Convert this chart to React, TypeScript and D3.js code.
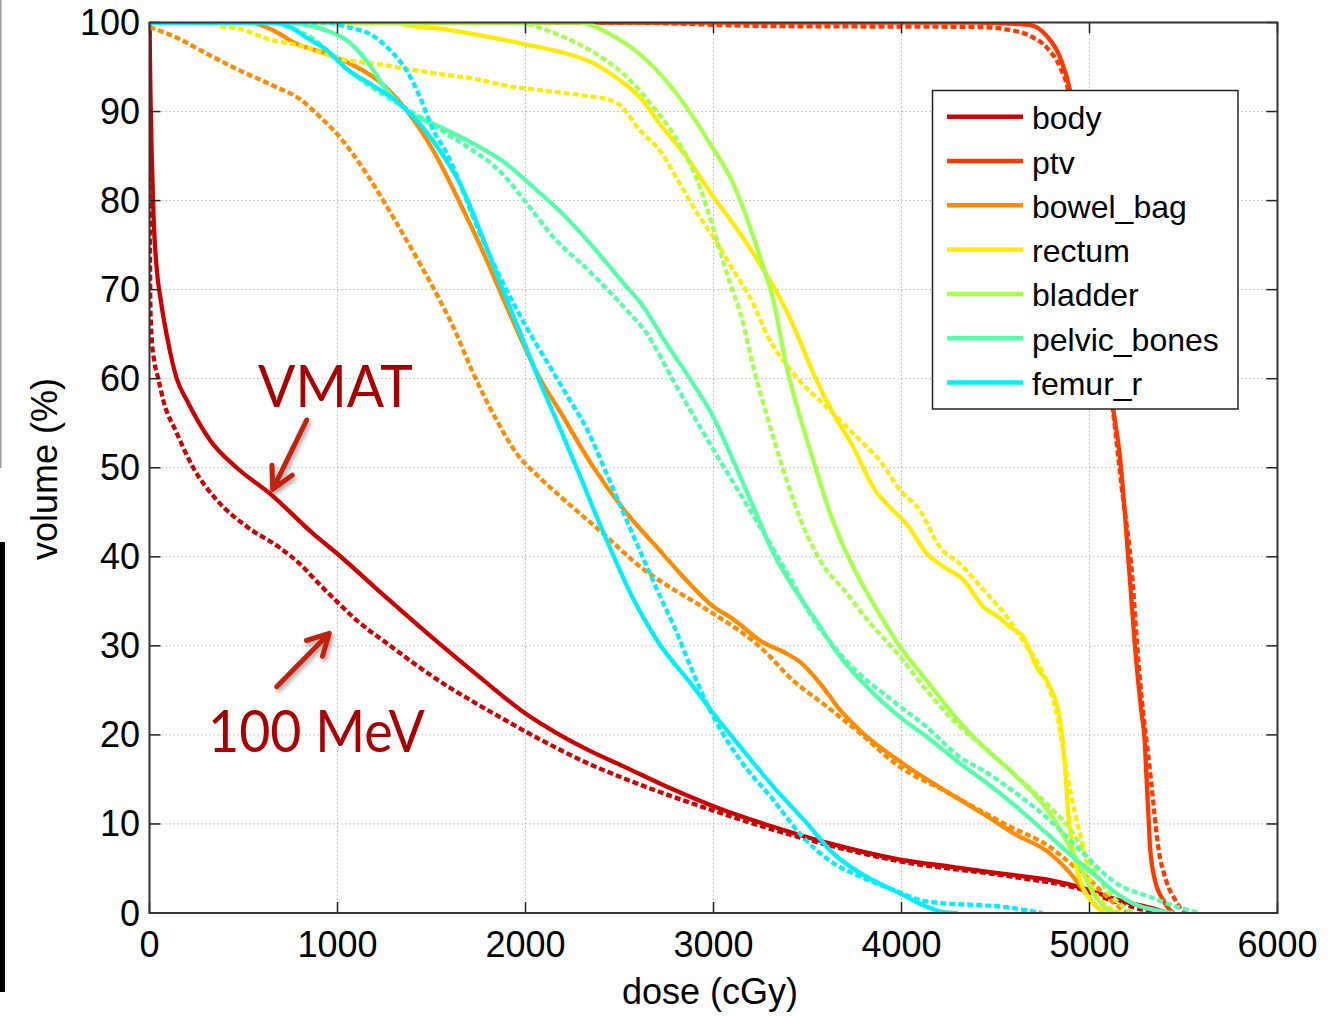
import React from "react";
import * as d3 from "d3";

type P = [number, number];

// ---------- data ----------
const structureNames = ["body", "ptv", "bowel_bag", "rectum", "bladder", "pelvic_bones", "femur_r"];
const structureColors = ["#CC0000", "#FF3A00", "#FF8C00", "#FFEB00", "#A6FF4D", "#55FFAA", "#00EEFF"];
const xTicks = [0, 1000, 2000, 3000, 4000, 5000, 6000];
const yTicks = [0, 10, 20, 30, 40, 50, 60, 70, 80, 90, 100];

// VMAT (solid)
const bodyVMAT: P[] = [[0,100],[5,92],[12,85],[22,78],[40,72],[60,68.8],[100,64],[145,60],[198,57.6],[322,53.1],[464,50],[641,47.1],[870,42.6],[996,40.4],[1250,35.6],[1500,31],[1750,26.6],[2000,22.4],[2166,20.2],[2343,18.2],[2538,16.3],[2750,14.2],[2999,12],[3300,9.8],[3602,7.9],[3992,6],[4258,5.2],[4577,4.3],[4790,3.7],[4965,2.8],[5145,1.5],[5322,0.6],[5420,0]];
const ptvVMAT: P[] = [[0,100],[4400,100],[4683,99.7],[4772,98.5],[4843,96.1],[4896,92.4],[4950,84],[5030,70],[5127,56.5],[5162,51.2],[5215,37.4],[5242,29.9],[5277,22.4],[5292,19.8],[5304,14.9],[5313,11.2],[5322,7.4],[5348,3.7],[5391,1.5],[5430,0.3],[5450,0]];
const bowelVMAT: P[] = [[0,100],[535,100],[659,99.1],[783,97.6],[943,96.5],[1120,94.8],[1226,93.3],[1368,90.1],[1510,85.6],[1652,79.7],[1794,73.3],[1873,69.4],[1935,66.4],[2077,60],[2184,56.3],[2360,50.1],[2538,44.9],[2715,40.7],[2850,37.5],[3000,34.4],[3105,33],[3247,30.6],[3400,29],[3460,28.2],[3566,25.8],[3673,22.8],[3779,20.5],[3992,17],[4258,13.4],[4430,11.2],[4600,8.9],[4790,6.7],[4896,4.5],[4967,2.6],[5038,0.7],[5100,0]];
const rectumVMAT: P[] = [[0,100],[1300,100],[1368,99.7],[1545,99.3],[1722,98.7],[1900,98],[2077,97.2],[2184,96.7],[2343,95.6],[2503,93.5],[2609,91.6],[2715,88.6],[2857,84.9],[3000,80.4],[3105,77.4],[3247,72.9],[3354,69],[3424,66],[3531,60.6],[3637,56.1],[3744,52.3],[3850,47.8],[3956,45.2],[4027,43.7],[4134,40.4],[4222,38.9],[4329,37.4],[4435,34.4],[4524,33.1],[4577,32.1],[4648,31],[4719,27.6],[4790,25.4],[4843,21.7],[4870,16.4],[4887,11.2],[4914,6.7],[4949,3.7],[5003,1.5],[5074,0.2],[5120,0]];
const bladderVMAT: P[] = [[0,100],[2290,100],[2449,98.7],[2627,96.1],[2804,92],[2981,86.4],[3105,81.9],[3176,78.1],[3247,73.7],[3318,68.8],[3389,61.3],[3460,55.7],[3531,50.8],[3620,44.9],[3726,39.6],[3779,37.4],[3885,33.5],[3992,29.9],[4134,26.1],[4311,21.4],[4435,18.7],[4613,15.3],[4790,11.2],[4896,7.4],[4967,4.5],[5020,2.2],[5091,0.5],[5150,0]];
const pelvicVMAT: P[] = [[0,100],[750,100],[836,99.7],[943,99.1],[1049,98],[1155,95.7],[1262,92.4],[1368,90.1],[1545,88.3],[1722,86.4],[1900,84.1],[2042,81.5],[2184,78.8],[2343,75.2],[2538,70.3],[2609,68.6],[2751,63.9],[2893,59.4],[2999,55.7],[3105,50.8],[3212,45.6],[3319,40.4],[3424,36.6],[3531,33.3],[3673,28.8],[3815,25.4],[3992,22],[4134,19.8],[4311,16.8],[4435,14.9],[4613,11.9],[4790,8.6],[4934,5.9],[5038,4.1],[5145,2.2],[5251,0.9],[5357,0.3],[5450,0]];
const femurVMAT: P[] = [[0,100],[660,100],[747,99.5],[836,98.3],[943,96.9],[1049,94.8],[1190,92.9],[1332,90.9],[1439,88.6],[1545,85.6],[1652,81.9],[1758,76.6],[1864,70.8],[1971,65.2],[2077,59.6],[2184,54.4],[2280,49.6],[2365,45.2],[2460,40.5],[2570,35.4],[2694,30.8],[2893,25.4],[3000,22.4],[3141,18.7],[3318,14.2],[3496,10.1],[3637,6.7],[3779,4.5],[3992,2.2],[4134,0.7],[4222,0.1],[4300,0]];

// 100 MeV (dotted)
const bodyMeV: P[] = [[0,100],[1,88],[2.5,76],[5,68],[12,64.5],[25,62],[47,60],[73,57.6],[145,53.9],[233,50],[357,46.4],[517,43.4],[694,41],[800,39.2],[900,37],[1000,34.9],[1100,32.9],[1262,30.3],[1510,26.5],[1864,22],[2077,19.5],[2343,16.7],[2538,15],[2999,11.5],[3423,8.7],[3992,5.8],[4577,4.1],[4965,2.6],[5145,1.2],[5300,0.3],[5380,0]];
const ptvMeV: P[] = [[0,100],[2500,100],[3300,99.6],[4400,99.5],[4594,99.1],[4683,98.5],[4772,97.2],[4843,95],[4887,92.4],[4950,84],[5030,70],[5127,56],[5170,48],[5229,37.4],[5254,29.9],[5286,22.4],[5307,18.7],[5327,14.9],[5345,11.2],[5366,7.4],[5407,3.7],[5455,1.5],[5499,0.2],[5520,0]];
const bowelMeV: P[] = [[0,99.5],[145,98.3],[304,96.5],[481,94.6],[659,92.9],[800,91.4],[907,89.4],[1013,87.1],[1155,83],[1297,78.1],[1439,72.9],[1545,68.8],[1616,65.8],[1722,60.6],[1840,55.6],[1953,51.6],[2070,49],[2184,46.8],[2414,42.6],[2627,38.6],[2715,37.3],[2893,35],[3000,33.6],[3247,29.9],[3424,26.1],[3602,23.2],[3779,20.2],[3992,16.4],[4222,13.8],[4577,9.7],[4790,7.4],[4879,5.9],[5003,3.7],[5109,1.5],[5200,0]];
const rectumMeV: P[] = [[0,100],[350,100],[375,99.6],[481,99.3],[623,98.2],[836,97.2],[1013,95.9],[1190,95.4],[1368,94.8],[1545,94.2],[1722,93.7],[1900,92.9],[2077,92.4],[2343,91.7],[2449,91.3],[2503,90.7],[2609,87.9],[2715,85.6],[2821,81.9],[2928,78.1],[2999,75.9],[3105,72.2],[3212,68.4],[3283,65],[3424,60.6],[3602,56.8],[3779,53.1],[3885,50.8],[3992,47.5],[4098,45.2],[4204,41.1],[4311,39.2],[4453,35.9],[4560,33.3],[4667,29.9],[4754,26.9],[4825,22.4],[4887,14.9],[4923,11.2],[4967,7.4],[5003,3.7],[5056,1.5],[5145,0.2],[5180,0]];
const bladderMeV: P[] = [[0,100],[1950,100],[2166,98.7],[2343,96.9],[2538,93.9],[2680,90.5],[2786,87.5],[2857,84.9],[2928,81.5],[2981,78.1],[3034,74.4],[3088,70.7],[3141,67.5],[3212,61.3],[3301,54.6],[3389,48.6],[3478,43.4],[3567,39.6],[3709,35.9],[3815,33],[3992,28.8],[4134,25],[4311,20.9],[4435,18.7],[4613,15.3],[4790,11.9],[4914,8.9],[5003,5.6],[5091,2.6],[5180,0.7],[5230,0]];
const pelvicMeV: P[] = [[0,100],[620,100],[765,99.3],[907,97.6],[1013,95.4],[1155,93.1],[1297,91.2],[1439,89.4],[1581,87.5],[1722,85.6],[1864,83.3],[2006,79.7],[2148,75.9],[2343,72],[2538,67.7],[2645,65.1],[2786,59.8],[2928,54.6],[3034,50.8],[3141,47.1],[3247,43.4],[3354,39.6],[3424,37],[3496,34.2],[3673,29.1],[3992,23.2],[4134,20.9],[4311,17.5],[4435,16],[4613,13.4],[4790,10.4],[4967,6.7],[5145,3.3],[5322,1.8],[5463,0.7],[5590,0]];
const femurMeV: P[] = [[0,100],[943,100],[1049,99.5],[1190,98.5],[1297,96.5],[1368,94.6],[1439,91.6],[1510,87.9],[1581,85.3],[1652,81.9],[1722,78.1],[1829,73],[1935,68.5],[2040,64.5],[2140,61],[2230,57.8],[2325,54.4],[2432,49.3],[2538,44.1],[2627,39.8],[2715,35.6],[2786,32.4],[2893,26.9],[3000,22],[3141,17.2],[3318,12.7],[3460,8.9],[3637,5.6],[3779,4.1],[3956,2.6],[4134,1.3],[4577,0.6],[4750,0]];

const vmatSeries = [bodyVMAT, ptvVMAT, bowelVMAT, rectumVMAT, bladderVMAT, pelvicVMAT, femurVMAT];
const mevSeries = [bodyMeV, ptvMeV, bowelMeV, rectumMeV, bladderMeV, pelvicMeV, femurMeV];

const xTitle = "dose (cGy)";
const yTitle = "volume (%)";

// ---------- chart ----------
export default function App() {
  const W = 1334, H = 1016;
  const x = d3.scaleLinear().domain([0, 6000]).range([149.5, 1277.5]);
  const y = d3.scaleLinear().domain([0, 100]).range([913, 22.5]);
  const line = d3.line<P>().x(d => x(d[0])).y(d => y(d[1])).curve(d3.curveMonotoneX);
  const [x0, x1] = x.range();
  const [y0, y1] = y.range();
  const tickLen = 11;
  const font = "'Liberation Sans', Arial, Helvetica, sans-serif";
  const annFont = "Lato, 'Open Sans', sans-serif";
  const annColor = "#A80000";
  const arrowColor = "#C0200C";

  const arrow = (tail: P, tip: P) => {
    const dx = tail[0] - tip[0], dy = tail[1] - tip[1];
    const len = Math.hypot(dx, dy);
    const ux = dx / len, uy = dy / len;
    const a = (28 * Math.PI) / 180, L = 24;
    const r = (s: number) => [
      tip[0] + L * (ux * Math.cos(s * a) - uy * Math.sin(s * a)),
      tip[1] + L * (ux * Math.sin(s * a) + uy * Math.cos(s * a)),
    ];
    const p1 = r(1), p2 = r(-1);
    return `M${tail[0]},${tail[1]}L${tip[0]},${tip[1]}M${p1[0]},${p1[1]}L${tip[0]},${tip[1]}L${p2[0]},${p2[1]}`;
  };

  const legendX = 932.5, legendY = 90.5, legendW = 305.5, legendH = 318.5;

  return (
    <svg width={W} height={H} style={{ position: "absolute", left: 0, top: 0, background: "#fff" }}>
      <defs>
        <clipPath id="plot">
          <rect x={x0} y={y1} width={x1 - x0} height={y0 - y1} />
        </clipPath>
        <filter id="shadow" x="-50%" y="-50%" width="200%" height="200%">
          <feDropShadow dx="2" dy="3" stdDeviation="2" floodColor="#000" floodOpacity="0.35" />
        </filter>
      </defs>
      <rect x={0} y={0} width={W} height={H} fill="#fff" />
      {/* slide edge artifacts */}
      <rect x={0} y={0} width={1.5} height={468} fill="#999" />
      <rect x={0} y={542} width={5} height={450} fill="#000" />

      {/* grid */}
      <g stroke="#b5b5b5" strokeWidth={1} strokeDasharray="1.5 2.5">
        {xTicks.slice(1, -1).map(t => <line key={"gx" + t} x1={x(t)} x2={x(t)} y1={y1} y2={y0} />)}
        {yTicks.slice(1, -1).map(t => <line key={"gy" + t} x1={x0} x2={x1} y1={y(t)} y2={y(t)} />)}
      </g>

      {/* curves */}
      <g clipPath="url(#plot)" fill="none" strokeWidth={4.3} strokeLinejoin="round">
        {structureNames.map((n, i) => (
          <g key={n}>
            <path d={line(vmatSeries[i]) || ""} stroke={structureColors[i]} />
            <path d={line(mevSeries[i]) || ""} stroke={structureColors[i]} strokeDasharray="6 3" />
          </g>
        ))}
      </g>

      {/* axes box & ticks */}
      <g stroke="#222" strokeWidth={1.5}>
        {xTicks.map(t => (
          <g key={"tx" + t}>
            <line x1={x(t)} x2={x(t)} y1={y0} y2={y0 - tickLen} />
            <line x1={x(t)} x2={x(t)} y1={y1} y2={y1 + tickLen} />
          </g>
        ))}
        {yTicks.map(t => (
          <g key={"ty" + t}>
            <line x1={x0} x2={x0 + tickLen} y1={y(t)} y2={y(t)} />
            <line x1={x1} x2={x1 - tickLen} y1={y(t)} y2={y(t)} />
          </g>
        ))}
      </g>
      <rect x={x0} y={y1} width={x1 - x0} height={y0 - y1} fill="none" stroke="#333" strokeWidth={2} />

      {/* tick labels */}
      <g fontFamily={font} fontSize={36} fill="#000">
        {xTicks.map(t => (
          <text key={"lx" + t} x={x(t)} y={957} textAnchor="middle">{t}</text>
        ))}
        {yTicks.map(t => (
          <text key={"ly" + t} x={140} y={y(t) + 12.5} textAnchor="end">{t}</text>
        ))}
        <text x={710} y={1004} textAnchor="middle">{xTitle}</text>
        <text transform={`translate(57,469) rotate(-90)`} textAnchor="middle">{yTitle}</text>
      </g>

      {/* legend */}
      <g>
        <rect x={legendX} y={legendY} width={legendW} height={legendH} fill="#fff" stroke="#222" strokeWidth={1.5} />
        {structureNames.map((n, i) => {
          const ly = 116.7 + i * 44.3;
          return (
            <g key={"lg" + n}>
              <line x1={947} x2={1023} y1={ly} y2={ly} stroke={structureColors[i]} strokeWidth={4.5} />
              <text x={1032} y={ly + 12.5} fontFamily={font} fontSize={32} fill="#000">{n}</text>
            </g>
          );
        })}
      </g>

      {/* annotations */}
      <g fontFamily={annFont} fontSize={58} fill={annColor}>
        <text x={258} y={407} textLength={155} lengthAdjust="spacingAndGlyphs">VMAT</text>
        <text x={208} y={752} textLength={217} lengthAdjust="spacingAndGlyphs">100 MeV</text>
      </g>
      <g fill="none" stroke={arrowColor} strokeWidth={5} strokeLinecap="round" strokeLinejoin="round" filter="url(#shadow)">
        <path d={arrow([306.7, 420], [272.7, 489.3])} />
        <path d={arrow([276.7, 686.7], [329.3, 633.3])} />
      </g>
    </svg>
  );
}
